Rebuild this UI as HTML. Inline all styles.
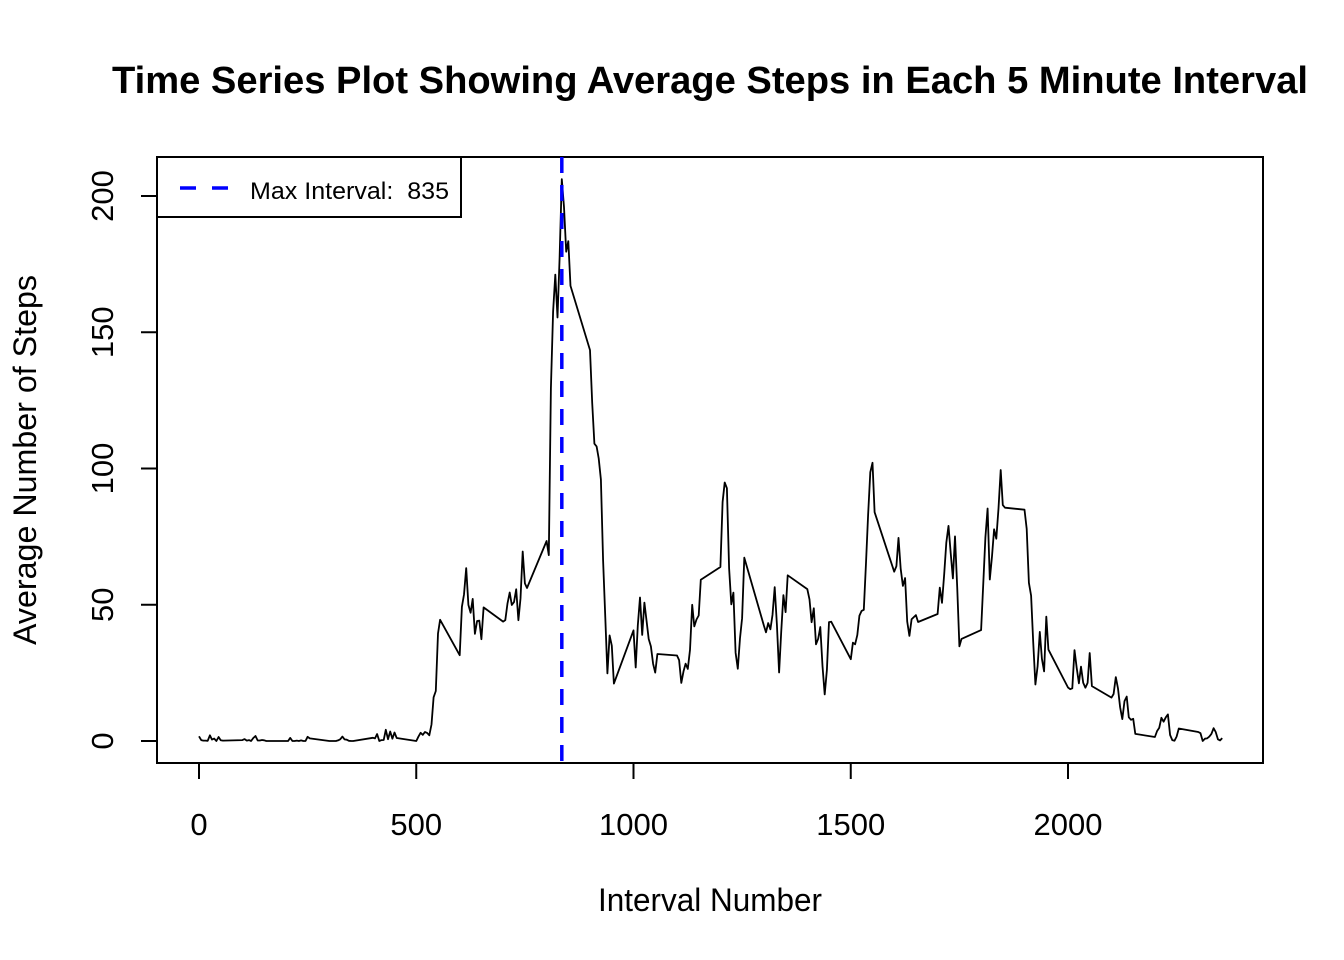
<!DOCTYPE html>
<html><head><meta charset="utf-8"><style>
html,body{margin:0;padding:0;background:#fff;}
svg{display:block;font-family:"Liberation Sans",Arial,sans-serif;}
</style></head><body>
<svg id="chart" width="1344" height="960" viewBox="0 0 1344 960">
<text x="710" y="93" text-anchor="middle" font-size="38" font-weight="bold" textLength="1196" lengthAdjust="spacingAndGlyphs">Time Series Plot Showing Average Steps in Each 5 Minute Interval</text>
<rect x="157" y="157" width="1106" height="606" fill="none" stroke="#000" stroke-width="2"/>
<g id="xaxis"></g>
<g id="yaxis"></g>
<text x="710" y="911" text-anchor="middle" font-size="32" textLength="224" lengthAdjust="spacingAndGlyphs">Interval Number</text>
<text transform="translate(36,460) rotate(-90)" text-anchor="middle" font-size="32" textLength="370" lengthAdjust="spacingAndGlyphs">Average Number of Steps</text>
<g id="series"></g>
<g>
<rect x="157" y="157" width="304" height="60" fill="#fff" stroke="#000" stroke-width="2"/>
<line x1="180" y1="188" x2="230" y2="188" stroke="#0000ff" stroke-width="3.5" stroke-dasharray="16,16"/>
<text x="250" y="199" font-size="24" xml:space="preserve" textLength="199" lengthAdjust="spacingAndGlyphs">Max Interval:  835</text>
</g>
</svg>
<script>
const steps = [1.72,0.34,0.13,0.15,0.08,2.09,0.53,0.87,0,1.47,0.30,0.13,
0.32,0.68,0.15,0.34,0,1.11,1.83,0.17,0.17,0.38,0.26,0,
0,0,1.13,0,0,0.13,0,0.23,0,0,1.55,0.94,
0,0,0,0,0.21,0.62,1.62,0.58,0.49,0.08,0,0,
1.19,0.94,2.57,0,0.34,0.36,4.11,0.66,3.49,0.83,3.11,1.11,
0,1.57,3.0,2.25,3.32,2.96,2.09,6.06,16.02,18.34,39.45,44.49,
31.49,49.26,53.77,63.45,49.96,47.08,52.15,39.34,44.02,44.17,37.36,49.04,
43.81,44.38,50.51,54.51,49.92,50.98,55.68,44.32,52.26,69.55,57.85,56.15,
73.38,68.21,129.43,157.53,171.15,155.40,177.30,206.17,195.92,179.57,183.40,167.02,
143.45,124.04,109.11,108.11,103.72,95.96,66.21,45.23,24.79,38.75,34.98,21.06,
40.57,26.98,42.42,52.66,38.92,50.79,44.28,37.42,34.70,28.34,25.09,31.94,
31.36,29.68,21.32,25.55,28.38,26.47,33.43,49.98,42.04,44.60,46.04,59.19,
63.87,87.70,94.85,92.77,63.40,50.17,54.47,32.42,26.53,37.74,45.06,67.28,
42.34,39.89,43.26,40.98,46.25,56.43,42.75,25.13,39.96,53.55,47.32,60.81,
55.75,51.96,43.58,48.70,35.47,37.55,41.85,27.51,17.11,26.08,43.62,43.77,
30.02,36.08,35.49,38.85,45.96,47.75,48.13,65.32,82.91,98.66,102.11,83.96,
62.13,64.13,74.55,63.17,56.91,59.77,43.87,38.57,44.66,45.45,46.21,43.68,
46.62,56.30,50.72,61.23,72.72,78.94,68.94,59.66,75.09,56.51,34.77,37.45,
40.68,58.02,74.70,85.32,59.26,67.77,77.70,74.25,85.34,99.45,86.58,85.60,
84.87,77.83,58.04,53.36,36.32,20.72,27.40,40.02,30.21,25.55,45.66,33.53,
19.62,19.02,19.34,33.34,26.81,21.17,27.30,21.34,19.55,21.32,32.30,20.15,
15.94,17.23,23.45,19.25,12.45,8.02,14.66,16.30,8.68,7.79,8.13,2.62,
1.45,3.68,4.81,8.51,7.08,8.70,9.75,2.21,0.32,0.11,1.60,4.60,
3.30,2.85,0,0.83,0.96,1.58,2.60,4.70,3.30,0.64,0.23,1.08];
const intervals = [];
for (let h = 0; h < 24; h++) for (let m = 0; m < 60; m += 5) intervals.push(h*100+m);
const xTicks = [0,500,1000,1500,2000];
const yTicks = [0,50,100,150,200];
const maxInterval = [835];

const NS = "http://www.w3.org/2000/svg";
const X = v => 199 + (v - 0) * (1068 - 199) / 2000;
const Y = v => 741 - v * (741 - 196) / 200;
function mk(tag, attrs, parent){const e=document.createElementNS(NS,tag);for(const k in attrs)e.setAttribute(k,attrs[k]);parent.appendChild(e);return e;}

const xa = document.getElementById('xaxis');
mk('line',{x1:X(xTicks[0]),y1:763,x2:X(xTicks[xTicks.length-1]),y2:763,stroke:'#000','stroke-width':2},xa);
xTicks.forEach(t=>{
  const l=mk('line',{x1:X(t),y1:763,x2:X(t),y2:779,stroke:'#000','stroke-width':2},xa);
  
  
  const tx=mk('text',{x:X(t),y:835,'text-anchor':'middle','font-size':31},xa);
  tx.textContent=t;
  
  
});
const ya = document.getElementById('yaxis');
mk('line',{x1:157,y1:Y(yTicks[0]),x2:157,y2:Y(yTicks[yTicks.length-1]),stroke:'#000','stroke-width':2},ya);
yTicks.forEach(t=>{
  const l=mk('line',{x1:141,y1:Y(t),x2:157,y2:Y(t),stroke:'#000','stroke-width':2},ya);
  
  
  const tx=mk('text',{transform:`translate(113,${Y(t)}) rotate(-90)`,'text-anchor':'middle','font-size':31},ya);
  tx.textContent=t;
  
  
});
const sg = document.getElementById('series');
const pts = intervals.map((iv,i)=>X(iv).toFixed(1)+','+Y(steps[i]).toFixed(1)).join(' ');
const pl = mk('polyline',{points:pts,fill:'none',stroke:'#000','stroke-width':1.8,'stroke-linejoin':'round'},sg);


const vl = mk('line',{x1:X(maxInterval[0]),y1:157,x2:X(maxInterval[0]),y2:763,stroke:'#0000ff','stroke-width':3.5,'stroke-dasharray':'16,12'},sg);


</script>
</body></html>
